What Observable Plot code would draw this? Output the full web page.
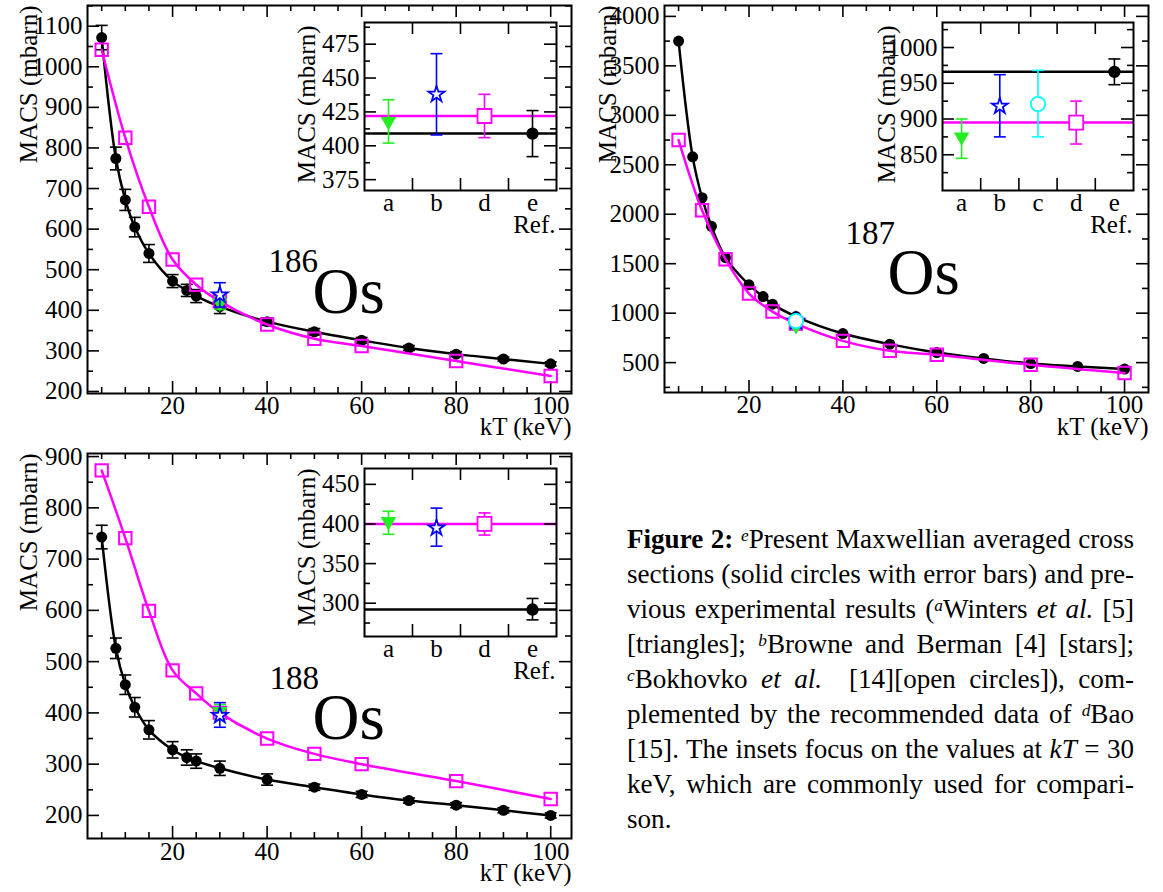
<!DOCTYPE html>
<html>
<head>
<meta charset="utf-8">
<script src="https://cdn.jsdelivr.net/npm/d3@7"></script>
<script src="https://cdn.jsdelivr.net/npm/@observablehq/plot@0.6"></script>
<style>
  body { margin: 0; background: #fff; }
  #root { position: relative; width: 1163px; height: 892px; overflow: hidden; background: #fff;
          font-family: "Liberation Serif", "Times New Roman", serif; color: #000; }
  .box { position: absolute; }
  .box svg { display: block; max-width: none; }
  #caption { position: absolute; left: 627px; top: 522px; width: 507px; font-size: 25px; line-height: 35px; }
  #caption .ln { height: 35px; text-align: justify; text-align-last: justify; }
  #caption .last { text-align: left; text-align-last: left; }
  .sp { font-size: 0.64em; font-style: italic; position: relative; top: -0.42em; line-height: 0; }
</style>
</head>
<body>
<div id="root">
  <div class="box" id="p186" style="left:0px;top:0px;"></div>
  <div class="box" id="p187" style="left:580px;top:0px;"></div>
  <div class="box" id="p188" style="left:0px;top:440px;"></div>
  <div class="box" id="i186" style="left:270px;top:0px;"></div>
  <div class="box" id="i187" style="left:850px;top:0px;"></div>
  <div class="box" id="i188" style="left:270px;top:440px;"></div>
  <div id="caption">
    <div class="ln"><b>Figure 2:</b> <span class="sp">e</span>Present Maxwellian averaged cross</div>
    <div class="ln">sections (solid circles with error bars) and pre-</div>
    <div class="ln">vious experimental results (<span class="sp">a</span>Winters <i>et al.</i> [5]</div>
    <div class="ln">[triangles]; <span class="sp">b</span>Browne and Berman [4] [stars];</div>
    <div class="ln"><span class="sp">c</span>Bokhovko <i>et al.</i> &nbsp;[14][open circles]), com-</div>
    <div class="ln">plemented by the recommended data of <span class="sp">d</span>Bao</div>
    <div class="ln">[15]. The insets focus on the values at <i>kT</i> = 30</div>
    <div class="ln">keV, which are commonly used for compari-</div>
    <div class="ln last">son.</div>
  </div>
</div>
<script>
// ---------------- data ----------------
const kT_present = [5, 8, 10, 12, 15, 20, 23, 25, 30, 40, 50, 60, 70, 80, 90, 100];
const kT_bao = [5, 10, 15, 20, 25, 30, 40, 50, 60, 80, 100];

const os186_present = [1072, 774, 672, 605, 540, 472, 449, 435, 409, 372, 347, 326, 307, 292, 280, 268];
const os186_presentErr = [30, 28, 26, 24, 22, 16, 15, 16, 17, 9, 8, 7, 6, 6, 5, 5];
const os186_bao = [1042, 825, 655, 525, 463, 422, 365, 330, 312, 275, 238];

const os187_present = [3750, 2580, 2167, 1878, 1561, 1286, 1168, 1091, 966, 794, 687, 602, 542, 491, 461, 435];
const os187_bao = [2750, 2040, 1545, 1198, 1016, 895, 720, 620, 580, 478, 395];

const os188_present = [743, 526, 455, 411, 367, 328, 313, 306, 292, 270, 255, 241, 229, 220, 210, 200];
const os188_presentErr = [23, 20, 19, 19, 18, 16, 15, 14, 14, 11, 6, 6, 5, 5, 5, 5];
const os188_bao = [873, 741, 599, 483, 438, 400, 350, 320, 300, 267, 232];

// values at kT = 30 keV (insets)
const inset186_refs = ["a", "b", "d", "e"];
const inset186_vals = [418, 438, 422, 409];
const inset186_lo = [402, 408, 406, 392];
const inset186_hi = [434, 468, 438, 426];

const inset187_refs = ["a", "b", "c", "d", "e"];
const inset187_vals = [875, 918, 921, 895, 966];
const inset187_lo = [845, 875, 875, 865, 948];
const inset187_hi = [900, 962, 968, 925, 984];

const inset188_refs = ["a", "b", "d", "e"];
const inset188_vals = [403, 395, 400, 292];
const inset188_lo = [387, 372, 386, 279];
const inset188_hi = [416, 420, 414, 306];

// tick labels
const xMajor = [20, 40, 60, 80, 100];
const xMinor = [5, 10, 15, 25, 30, 35, 45, 50, 55, 65, 70, 75, 85, 90, 95];
const y186Major = [200, 300, 400, 500, 600, 700, 800, 900, 1000, 1100];
const y186Minor = [250, 350, 450, 550, 650, 750, 850, 950, 1050, 1150];
const y187Major = [500, 1000, 1500, 2000, 2500, 3000, 3500, 4000];
const y187Minor = [250, 750, 1250, 1750, 2250, 2750, 3250, 3750];
const y188Major = [200, 300, 400, 500, 600, 700, 800, 900];
const y188Minor = [250, 350, 450, 550, 650, 750, 850];
const i186Major = [375, 400, 425, 450, 475];
const i186Minor = [387.5, 412.5, 437.5, 462.5, 487.5];
const i187Major = [850, 900, 950, 1000];
const i187Minor = [825, 875, 925, 975, 1025];
const i188Major = [300, 350, 400, 450];
const i188Minor = [275, 325, 375, 425];

// ---------------- styles ----------------
const FONT = '"Liberation Serif", "Times New Roman", serif';
const MAGENTA = "#ff00ff", GREEN = "#22ee22", BLUE = "#0000ff", CYAN = "#00ffff";
const refStyle = {
  a: {symbol: "triangle", rotate: 180, color: GREEN, fill: GREEN, r: 4.6},
  b: {symbol: "star", rotate: 0, color: BLUE, fill: "white", r: 5},
  c: {symbol: "circle", rotate: 0, color: CYAN, fill: "white", r: 7.2},
  d: {symbol: "square", rotate: 0, color: MAGENTA, fill: "white", r: 7.9},
  e: {symbol: "circle", rotate: 0, color: "black", fill: "black", r: 5.3}
};
const cap = {draw(context, size) { const r = Math.sqrt(size / Math.PI); context.moveTo(-r, 0); context.lineTo(r, 0); }};

function frameTicks(xT, yT, innerW, innerH, len, sw) {
  return [
    Plot.tickX(xT, {x: d => d, insetTop: innerH - len, strokeWidth: sw}),
    Plot.tickX(xT, {x: d => d, insetBottom: innerH - len, strokeWidth: sw}),
    Plot.tickY(yT, {y: d => d, insetRight: innerW - len, strokeWidth: sw}),
    Plot.tickY(yT, {y: d => d, insetLeft: innerW - len, strokeWidth: sw})
  ];
}

function refMarks(rows, capR) {
  return rows.flatMap(row => {
    const st = refStyle[row.ref];
    const data = [row];
    return [
      Plot.ruleX(data, {x: "x", y1: "lo", y2: "hi", stroke: st.color, strokeWidth: 1.6}),
      Plot.dot(data, {x: "x", y: "lo", symbol: cap, r: capR, stroke: st.color, fill: "none", strokeWidth: 1.6}),
      Plot.dot(data, {x: "x", y: "hi", symbol: cap, r: capR, stroke: st.color, fill: "none", strokeWidth: 1.6}),
      Plot.dot(data, {x: "x", y: "y", symbol: st.symbol, rotate: st.rotate, r: st.r, fill: st.fill, stroke: st.color, strokeWidth: 1.8})
    ];
  });
}

function mainPanel(cfg) {
  const {width, height, mL, mR, mT, mB, xDomain, yDomain, yMajor, yMinor, present, presentErr, bao,
         extra, mass, massPos, osPos, yTitleDx, xTitleDy, xLabelDy} = cfg;
  const innerW = width - mL - mR, innerH = height - mT - mB;
  const pres = kT_present.map((x, i) => ({x, y: present[i],
    lo: presentErr ? present[i] - presentErr[i] : null, hi: presentErr ? present[i] + presentErr[i] : null}));
  const baoRows = kT_bao.map((x, i) => ({x, y: bao[i]}));
  const extraRows = extra.refs.map((ref, i) => ({ref, x: 30, y: extra.vals[i], lo: extra.lo[i], hi: extra.hi[i]}))
                              .filter(r => r.ref === "a" || r.ref === "b" || r.ref === "c");
  const errMarks = presentErr ? [
      Plot.ruleX(pres, {x: "x", y1: "lo", y2: "hi", stroke: "black", strokeWidth: 1.6}),
      Plot.dot(pres, {x: "x", y: "lo", symbol: cap, r: 6, stroke: "black", fill: "none", strokeWidth: 1.6}),
      Plot.dot(pres, {x: "x", y: "hi", symbol: cap, r: 6, stroke: "black", fill: "none", strokeWidth: 1.6})
    ] : [];
  return Plot.plot({
    width, height, marginLeft: mL, marginRight: mR, marginTop: mT, marginBottom: mB,
    x: {domain: xDomain, axis: null},
    y: {domain: yDomain, axis: null},
    style: {fontFamily: FONT, fontSize: "25px", background: "transparent", color: "black", overflow: "visible"},
    marks: [
      ...frameTicks(xMajor, yMajor, innerW, innerH, 12, 1.6),
      ...frameTicks(xMinor, yMinor, innerW, innerH, 6, 1.6),
      Plot.text(xMajor, {x: d => d, frameAnchor: "bottom", dy: xLabelDy, text: d => String(d), lineAnchor: "middle"}),
      Plot.text(yMajor, {y: d => d, frameAnchor: "left", dx: -5, textAnchor: "end", text: d => String(d)}),
      Plot.text(["MACS (mbarn)"], {frameAnchor: "top-left", rotate: -90, textAnchor: "end", dx: yTitleDx, text: d => d}),
      Plot.text(["kT (keV)"], {frameAnchor: "bottom-right", textAnchor: "end", dy: xTitleDy, text: d => d}),
      Plot.text([mass], {frameAnchor: "top-left", dx: massPos[0], dy: massPos[1], fontSize: 33, lineAnchor: "bottom", textAnchor: "start", text: d => d}),
      Plot.text(["Os"], {frameAnchor: "top-left", dx: osPos[0], dy: osPos[1], fontSize: 65, lineAnchor: "bottom", textAnchor: "start", text: d => d}),
      Plot.line(pres, {x: "x", y: "y", curve: "catmull-rom", stroke: "black", strokeWidth: 2.5}),
      ...errMarks,
      Plot.dot(pres, {x: "x", y: "y", r: 5.5, fill: "black", stroke: "none"}),
      Plot.line(baoRows, {x: "x", y: "y", curve: "catmull-rom", stroke: MAGENTA, strokeWidth: 2.5}),
      Plot.dot(baoRows, {x: "x", y: "y", symbol: "square", r: 7, stroke: MAGENTA, fill: "none", strokeWidth: 2}),
      ...refMarks(extraRows, 6),
      Plot.frame({stroke: "black", strokeWidth: 2})
    ]
  });
}

function insetPanel(cfg) {
  const {refs, vals, lo, hi, width, height, mL, mR, mT, mB, yDomain, yMajor, yMinor, yTitleDx, yTitleDy} = cfg;
  const n = refs.length;
  const innerW = width - mL - mR, innerH = height - mT - mB;
  const rows = refs.map((ref, i) => ({ref, x: i, y: vals[i], lo: lo[i], hi: hi[i]}));
  const bounds = d3.range(n - 1).map(i => i + 0.5);
  const lineRows = rows.filter(r => r.ref === "d" || r.ref === "e");
  return Plot.plot({
    width, height, marginLeft: mL, marginRight: mR, marginTop: mT, marginBottom: mB,
    x: {domain: [-0.5, n - 0.5], axis: null},
    y: {domain: yDomain, axis: null},
    style: {fontFamily: FONT, fontSize: "25px", background: "transparent", color: "black", overflow: "visible"},
    marks: [
      Plot.frame({fill: "white", stroke: "none"}),
      ...lineRows.map(r => Plot.ruleY([r], {y: "y", stroke: refStyle[r.ref].color, strokeWidth: 2.5})),
      ...frameTicks(bounds, yMajor, innerW, innerH, 12, 1.6),
      ...frameTicks([], yMinor, innerW, innerH, 6, 1.6),
      Plot.text(rows, {x: "x", frameAnchor: "bottom", dy: 12, text: "ref", lineAnchor: "middle"}),
      Plot.text(yMajor, {y: d => d, frameAnchor: "left", dx: -5, textAnchor: "end", text: d => String(d)}),
      Plot.text(["MACS (mbarn)"], {frameAnchor: "top-left", rotate: -90, textAnchor: "end", dx: yTitleDx, dy: yTitleDy, text: d => d}),
      Plot.text(["Ref."], {frameAnchor: "bottom-right", textAnchor: "end", dx: -1, dy: 42, text: d => d}),
      ...refMarks(rows, 6),
      Plot.frame({stroke: "black", strokeWidth: 2})
    ]
  });
}

// ---------------- panels ----------------
document.getElementById("p186").append(mainPanel({
  width: 580, height: 445, mL: 87, mR: 9, mT: 5, mB: 52,
  xDomain: [2, 104.4], yDomain: [195, 1151], yMajor: y186Major, yMinor: y186Minor,
  present: os186_present, presentErr: os186_presentErr, bao: os186_bao,
  extra: {refs: inset186_refs, vals: inset186_vals, lo: inset186_lo, hi: inset186_hi},
  mass: "186", massPos: [181, 266], osPos: [225, 307], yTitleDx: -68, xTitleDy: 41, xLabelDy: 12
}));
document.getElementById("p187").append(mainPanel({
  width: 583, height: 445, mL: 84, mR: 15, mT: 5, mB: 53,
  xDomain: [2, 105.1], yDomain: [198, 4110], yMajor: y187Major, yMinor: y187Minor,
  present: os187_present, presentErr: null, bao: os187_bao,
  extra: {refs: inset187_refs, vals: inset187_vals, lo: inset187_lo, hi: inset187_hi},
  mass: "187", massPos: [181, 238], osPos: [223, 288], yTitleDx: -66, xTitleDy: 42, xLabelDy: 12
}));
document.getElementById("p188").append(mainPanel({
  width: 580, height: 452, mL: 87, mR: 9, mT: 13, mB: 54,
  xDomain: [2, 104.4], yDomain: [155, 906], yMajor: y188Major, yMinor: y188Minor,
  present: os188_present, presentErr: os188_presentErr, bao: os188_bao,
  extra: {refs: inset188_refs, vals: inset188_vals, lo: inset188_lo, hi: inset188_hi},
  mass: "188", massPos: [182, 235], osPos: [225, 285], yTitleDx: -68, xTitleDy: 42, xLabelDy: 13
}));

document.getElementById("i186").append(insetPanel({
  refs: inset186_refs, vals: inset186_vals, lo: inset186_lo, hi: inset186_hi,
  width: 300, height: 250, mL: 94, mR: 14, mT: 22, mB: 60,
  yDomain: [367, 491], yMajor: i186Major, yMinor: i186Minor, yTitleDx: -67, yTitleDy: 3
}));
document.getElementById("i187").append(insetPanel({
  refs: inset187_refs, vals: inset187_vals, lo: inset187_lo, hi: inset187_hi,
  width: 300, height: 250, mL: 92, mR: 17, mT: 22, mB: 60,
  yDomain: [800, 1035], yMajor: i187Major, yMinor: i187Minor, yTitleDx: -65, yTitleDy: 3
}));
document.getElementById("i188").append(insetPanel({
  refs: inset188_refs, vals: inset188_vals, lo: inset188_lo, hi: inset188_hi,
  width: 300, height: 260, mL: 94, mR: 14, mT: 28, mB: 64,
  yDomain: [258, 470], yMajor: i188Major, yMinor: i188Minor, yTitleDx: -67, yTitleDy: 0
}));

// ---------------- caption: fit the font so the widest line just fills the column ----------------
(function fitCaption() {
  const box = document.getElementById("caption");
  const lines = [...box.querySelectorAll(".ln")];
  const W = box.clientWidth;
  let maxW = 0;
  lines.forEach(l => {
    const s = document.createElement("span");
    s.style.whiteSpace = "nowrap";
    s.innerHTML = l.innerHTML;
    document.body.appendChild(s);
    s.style.fontFamily = getComputedStyle(box).fontFamily;
    s.style.fontSize = "25px";
    maxW = Math.max(maxW, s.getBoundingClientRect().width);
    s.remove();
  });
  const fs = Math.max(23, Math.min(28, 25 * (W - 2) / maxW));
  box.style.fontSize = fs.toFixed(2) + "px";
})();
</script>
</body>
</html>
